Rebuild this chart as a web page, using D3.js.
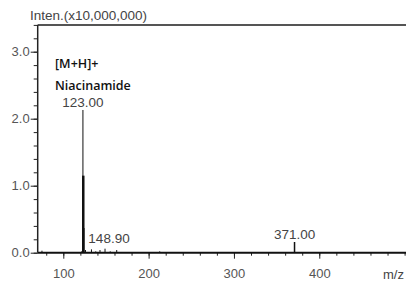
<!DOCTYPE html>
<html>
<head>
<meta charset="utf-8">
<script src="https://cdn.jsdelivr.net/npm/d3@7"></script>
<style>
  body { margin: 0; background: #fff; }
  svg { display: block; }
  .axis text { font-family: "Liberation Sans", Arial, sans-serif; font-size: 13px; fill: #555; }
  .axis path, .axis line { stroke: #222; }
</style>
</head>
<body>
<div id="chart"></div>
<script>
// peaks: m/z and intensity (x10,000,000)
var peakMz   = [75, 113, 121.5, 123, 123.4, 124, 126, 133, 138, 143, 148.9, 155, 162.6, 168, 213, 371];
var peakInt  = [0.03, 0.01, 0.02, 2.13, 1.15, 0.37, 0.04, 0.05, 0.02, 0.04, 0.06, 0.02, 0.04, 0.01, 0.02, 0.16];
var peakWide = [1, 1, 1, 1, 2.5, 1.5, 1, 1, 1, 1, 1, 1, 1, 1, 1, 1.5];

var peakLabels = [
  {mz: 123, text: "123.00", val: 2.13},
  {mz: 148.9, text: "148.90", val: 0.06},
  {mz: 371, text: "371.00", val: 0.16}
];

var xMajor = [100, 200, 300, 400];
var yMajor = [0, 1, 2, 3];

var W = 406, H = 282;
var svg = d3.select('#chart').append('svg')
    .attr('width', W)
    .attr('height', H);

var xScale = d3.scaleLinear().domain([70, 500]).range([37.7, 404.6]);
var yScale = d3.scaleLinear().domain([0, 3.4]).range([252.7, 24.9]);

// top frame line
svg.append('line')
    .attr('x1', xScale(70)).attr('x2', W + 5)
    .attr('y1', yScale(3.4)).attr('y2', yScale(3.4))
    .attr('stroke', '#555').attr('stroke-width', 2);

// y minor ticks
var yMinor = d3.range(0, 3.41, 0.2);
svg.append('g')
    .attr('class', 'axis')
    .attr('transform', 'translate(' + xScale(70) + ',0)')
    .call(d3.axisLeft(yScale).tickValues(yMinor).tickSize(4).tickFormat(''))
    .select('.domain').remove();

// y major ticks with labels
svg.append('g')
    .attr('class', 'axis')
    .attr('transform', 'translate(' + xScale(70) + ',0)')
    .call(d3.axisLeft(yScale).tickValues(yMajor).tickSize(7).tickPadding(1).tickFormat(d3.format('.1f')))
    .select('.domain').remove();

// x minor ticks
var xMinor = d3.range(80, 501, 20);
svg.append('g')
    .attr('class', 'axis')
    .attr('transform', 'translate(0,' + yScale(0) + ')')
    .call(d3.axisBottom(xScale).tickValues(xMinor).tickSize(3).tickFormat(''))
    .select('.domain').remove();

// x major ticks
svg.append('g')
    .attr('class', 'axis')
    .attr('transform', 'translate(0,' + yScale(0) + ')')
    .call(d3.axisBottom(xScale).tickValues(xMajor).tickSize(6).tickPadding(10))
    .select('.domain').remove();

// axis lines
svg.append('line')
    .attr('x1', xScale(70)).attr('x2', xScale(70))
    .attr('y1', yScale(3.4)).attr('y2', yScale(0))
    .attr('stroke', '#222').attr('stroke-width', 1.5);
svg.append('line')
    .attr('x1', xScale(70)).attr('x2', W + 5)
    .attr('y1', yScale(0)).attr('y2', yScale(0))
    .attr('stroke', '#111').attr('stroke-width', 2);

// peaks
svg.append('g').selectAll('line')
    .data(peakMz)
    .enter()
    .append('line')
    .attr('x1', function(d){ return xScale(d); })
    .attr('x2', function(d){ return xScale(d); })
    .attr('y1', yScale(0))
    .attr('y2', function(d, i){ return yScale(peakInt[i]); })
    .attr('stroke', '#111')
    .attr('stroke-width', function(d, i){ return peakWide[i]; });

// peak labels
svg.append('g').selectAll('text')
    .data(peakLabels)
    .enter()
    .append('text')
    .attr('x', function(d){ return d.mz === 148.9 ? xScale(d.mz) + 4 : xScale(d.mz); })
    .attr('y', function(d){ return d.mz === 148.9 ? 243 : yScale(d.val) - 3; })
    .attr('text-anchor', 'middle')
    .style('font-family', '"Liberation Sans", Arial, sans-serif')
    .style('font-size', '13.5px')
    .style('fill', '#444')
    .text(function(d){ return d.text; });

// annotation
svg.append('text')
    .attr('x', 55).attr('y', 68)
    .style('font-family', '"Open Sans", sans-serif')
    .style('font-size', '12.5px')
    .style('font-weight', 600)
    .style('fill', '#111')
    .text('[M+H]+');
svg.append('text')
    .attr('x', 55).attr('y', 90)
    .style('font-family', '"Open Sans", sans-serif')
    .style('font-size', '12.5px')
    .style('font-weight', 600)
    .style('fill', '#111')
    .text('Niacinamide');

// titles
svg.append('text')
    .attr('x', 30).attr('y', 20)
    .style('font-family', '"Liberation Sans", Arial, sans-serif')
    .style('font-size', '13.5px')
    .style('fill', '#444')
    .text('Inten.(x10,000,000)');
svg.append('text')
    .attr('x', 383).attr('y', 279)
    .style('font-family', '"Liberation Sans", Arial, sans-serif')
    .style('font-size', '13px')
    .style('fill', '#444')
    .text('m/z');
</script>
</body>
</html>
